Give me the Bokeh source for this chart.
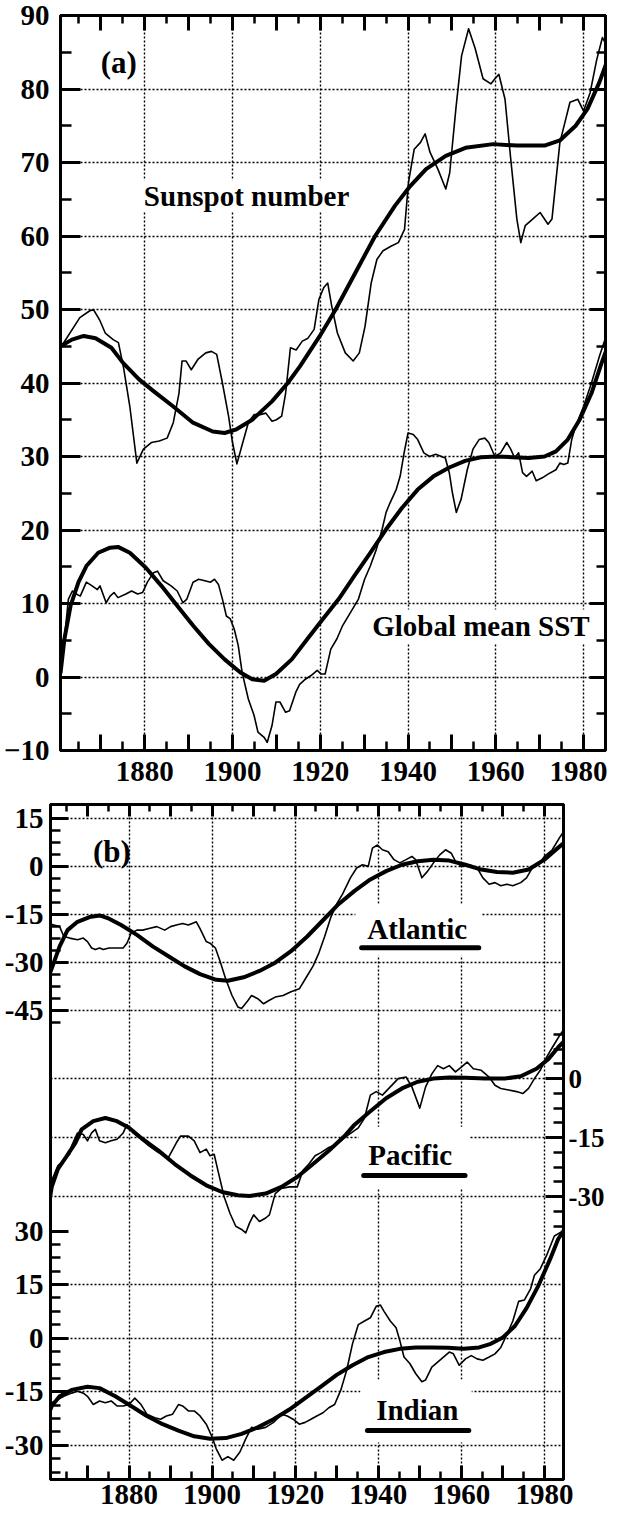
from bokeh.plotting import figure
from bokeh.models import (FixedTicker, LinearAxis, Range1d, Label, BoxAnnotation,
                          CustomJSTickFormatter)
from bokeh.embed import file_html
from bokeh.resources import INLINE

# ---------------- panel (a) data ----------------
sunspot_thin_year = [1860.8, 1865.2, 1867.4, 1868.3, 1869.7, 1871.0, 1872.8, 1874.0, 1875.2, 1876.6,
                     1878.2, 1879.7, 1881.5, 1883.3, 1885.1, 1886.5, 1887.8, 1888.5, 1889.4, 1890.6,
                     1892.1, 1893.9, 1895.2, 1896.4, 1897.7, 1899.1, 1900.0, 1901.0, 1902.2, 1903.6,
                     1904.9, 1906.3, 1907.6, 1909.0, 1910.0, 1911.2, 1912.1, 1913.2, 1914.5, 1915.9,
                     1917.2, 1918.6, 1919.7, 1920.8, 1921.7, 1922.6, 1923.9, 1925.7, 1927.5, 1928.9,
                     1930.2, 1931.6, 1932.9, 1934.3, 1936.1, 1937.8, 1939.2, 1940.1, 1941.4, 1942.8,
                     1943.9, 1945.0, 1946.8, 1948.6, 1949.5, 1950.9, 1952.2, 1953.8, 1955.3, 1957.1,
                     1958.9, 1959.8, 1960.7, 1962.1, 1963.4, 1964.8, 1965.7, 1966.7, 1968.4, 1970.1,
                     1971.9, 1972.8, 1974.6, 1976.9, 1978.7, 1980.0, 1981.5, 1983.0, 1984.3, 1985.2]
sunspot_thin = [44.8, 48.9, 49.8, 50.0, 48.6, 46.8, 45.9, 45.5, 42.0, 36.8,
                29.1, 31.0, 31.9, 32.1, 32.5, 34.6, 38.6, 43.0, 43.0, 41.8,
                43.2, 44.1, 44.3, 43.9, 40.0, 35.5, 31.9, 29.0, 31.6, 34.6,
                35.7, 35.7, 35.9, 34.8, 35.0, 35.5, 38.6, 44.8, 44.5, 45.7,
                46.1, 47.3, 51.4, 53.0, 53.6, 50.5, 46.8, 44.1, 43.0, 44.1,
                47.7, 53.6, 56.8, 58.0, 58.6, 59.1, 60.9, 67.3, 71.8, 72.7,
                73.9, 71.4, 69.1, 66.4, 68.6, 77.3, 84.5, 88.2, 85.5, 81.4,
                80.7, 81.4, 82.0, 78.6, 70.5, 62.3, 59.1, 61.4, 62.3, 63.2,
                61.6, 62.3, 72.7, 78.2, 78.6, 77.0, 79.5, 84.0, 87.0, 86.0]

sunspot_smooth_year = [1860.8, 1863.4, 1866.1, 1868.8, 1872.4, 1875.1, 1878.7, 1882.0, 1886.5, 1891.0,
                       1895.5, 1898.2, 1900.9, 1904.5, 1909.0, 1912.6, 1915.4, 1919.9, 1923.5, 1928.0,
                       1932.5, 1937.0, 1940.5, 1944.1, 1948.6, 1953.1, 1959.4, 1964.8, 1971.1, 1974.6,
                       1978.2, 1980.9, 1983.6, 1985.2]
sunspot_smooth = [45.0, 45.9, 46.4, 46.1, 44.8, 42.7, 40.5, 38.9, 36.8, 34.6,
                  33.4, 33.2, 33.7, 35.0, 37.5, 40.0, 42.3, 46.4, 50.0, 55.0,
                  60.0, 64.1, 66.8, 69.1, 70.9, 72.0, 72.5, 72.3, 72.3, 73.0,
                  75.0, 77.3, 80.9, 83.5]

sst_thin_year = [1860.8, 1861.7, 1862.6, 1863.5, 1864.4, 1865.3, 1866.7, 1868.0, 1869.2, 1869.8,
                 1871.2, 1872.1, 1873.0, 1873.9, 1875.7, 1877.0, 1878.4, 1879.5, 1880.6, 1882.0,
                 1882.9, 1884.2, 1886.0, 1887.4, 1888.7, 1889.6, 1891.0, 1892.3, 1893.7, 1895.0,
                 1895.9, 1896.8, 1897.7, 1898.6, 1899.5, 1900.4, 1901.3, 1902.2, 1903.6, 1904.9,
                 1905.8, 1907.2, 1907.9, 1909.0, 1909.9, 1910.8, 1912.1, 1913.0, 1914.4, 1915.3,
                 1916.6, 1917.9, 1919.3, 1920.2, 1921.1, 1922.4, 1923.8, 1925.1, 1926.9, 1928.7,
                 1930.1, 1931.4, 1932.8, 1934.1, 1935.0, 1935.9, 1937.3, 1938.2, 1939.1, 1940.0,
                 1941.2, 1942.2, 1943.6, 1944.9, 1946.3, 1947.6, 1948.5, 1949.4, 1950.1, 1951.0,
                 1952.1, 1953.5, 1954.8, 1956.2, 1957.5, 1958.4, 1959.8, 1961.1, 1962.5, 1963.4,
                 1964.3, 1965.2, 1966.1, 1967.0, 1968.3, 1969.2, 1970.6, 1971.9, 1973.7, 1974.6,
                 1975.5, 1976.4, 1977.3, 1978.2, 1980.0, 1981.8, 1983.6, 1985.2]
sst_thin = [1.0, 5.2, 10.6, 11.7, 11.3, 11.0, 12.9, 12.4, 11.9, 12.4,
            10.1, 11.0, 11.5, 10.8, 11.3, 11.7, 11.3, 11.5, 12.9, 14.2,
            14.4, 13.1, 12.4, 11.7, 10.1, 10.6, 12.9, 13.3, 13.1, 12.9,
            13.3, 12.6, 10.6, 8.3, 7.9, 6.5, 4.3, 0.6, -3.0, -5.2,
            -7.5, -8.2, -8.9, -6.6, -3.4, -3.4, -4.8, -4.6, -2.1, -1.0,
            -0.3, 0.2, 0.9, 0.4, 0.4, 3.8, 5.2, 7.0, 8.8, 10.6,
            13.3, 15.1, 17.4, 20.1, 22.4, 23.7, 25.5, 27.3, 30.5, 33.2,
            33.0, 32.3, 30.5, 30.0, 30.3, 30.0, 29.8, 27.8, 25.1, 22.4,
            24.2, 28.2, 31.0, 32.3, 32.5, 31.9, 30.0, 30.5, 31.9, 31.0,
            29.8, 30.5, 27.8, 27.3, 28.0, 26.7, 27.1, 27.6, 28.2, 29.1,
            28.9, 29.1, 32.3, 34.1, 36.8, 40.0, 43.6, 46.5]

sst_smooth_year = [1860.8, 1861.7, 1863.1, 1864.9, 1866.7, 1869.4, 1872.1, 1873.9, 1876.6, 1880.2,
                   1883.8, 1887.4, 1891.0, 1894.6, 1898.2, 1901.8, 1904.5, 1907.2, 1909.9, 1913.5,
                   1917.1, 1920.6, 1924.2, 1927.8, 1931.4, 1935.0, 1938.6, 1942.2, 1945.8, 1949.4,
                   1953.0, 1956.6, 1960.2, 1963.8, 1967.5, 1971.1, 1973.7, 1976.4, 1979.1, 1981.8,
                   1984.1, 1985.2]
sst_smooth = [0.5, 5.2, 9.7, 12.9, 15.1, 16.9, 17.6, 17.7, 16.9, 14.9,
              12.4, 9.7, 7.0, 4.5, 2.4, 0.6, -0.3, -0.5, 0.4, 2.4,
              5.2, 7.9, 10.6, 13.8, 16.9, 20.1, 23.0, 25.5, 27.3, 28.5,
              29.4, 29.9, 30.0, 29.9, 29.8, 30.0, 30.7, 32.3, 35.0, 38.6,
              42.7, 44.5]

# ---------------- panel (b) data ----------------
atl_thin_year = [1861.1, 1861.9, 1863.3, 1864.3, 1865.7, 1867.6, 1869.0, 1870.0, 1871.0, 1871.9,
                 1872.9, 1873.8, 1875.2, 1877.1, 1878.6, 1879.5, 1880.5, 1881.9, 1883.3, 1884.8,
                 1886.7, 1888.6, 1890.0, 1891.4, 1892.9, 1894.3, 1895.2, 1896.2, 1897.1, 1898.6,
                 1899.5, 1900.8, 1901.9, 1903.3, 1904.8, 1906.2, 1907.1, 1908.4, 1909.5, 1911.0,
                 1912.4, 1913.8, 1915.2, 1917.1, 1919.0, 1921.0, 1922.9, 1924.3, 1925.7, 1927.1,
                 1928.6, 1930.0, 1931.4, 1933.3, 1934.8, 1936.2, 1937.6, 1938.6, 1939.8, 1941.0,
                 1942.4, 1943.8, 1945.2, 1946.7, 1948.1, 1949.0, 1950.5, 1951.9, 1953.3, 1954.8,
                 1956.2, 1957.6, 1958.6, 1960.0, 1961.9, 1963.8, 1965.2, 1966.7, 1968.1, 1969.5,
                 1971.0, 1972.4, 1974.3, 1975.7, 1977.1, 1978.6, 1980.0, 1981.9, 1983.8, 1985.2]
atl_thin = [-18.0, -18.3, -18.8, -21.9, -22.4, -22.9, -22.4, -23.5, -25.5, -26.0,
            -25.5, -26.0, -25.5, -25.5, -25.5, -24.0, -20.9, -19.9, -19.9, -19.4,
            -18.8, -19.9, -18.8, -18.3, -17.8, -18.3, -17.8, -17.3, -19.4, -23.5,
            -24.0, -25.5, -29.6, -35.3, -40.4, -44.0, -44.5, -42.4, -40.4, -41.4,
            -43.0, -41.9, -40.9, -40.4, -39.2, -38.3, -34.2, -31.2, -27.1, -21.9,
            -15.8, -11.7, -8.6, -3.5, -0.4, 0.6, 0.1, 5.8, 6.8, 5.3,
            4.7, 2.2, 1.2, 2.2, 3.2, 2.2, -3.5, -1.4, 1.2, 3.7,
            5.3, 4.2, 1.7, 0.1, 0.6, -0.4, -3.5, -5.5, -5.0, -6.0,
            -5.5, -6.0, -5.0, -3.5, -0.4, 0.6, 3.2, 5.3, 9.4, 12.0]

atl_smooth_year = [1861.1, 1861.9, 1863.3, 1865.2, 1867.6, 1870.5, 1872.9, 1875.2, 1878.1, 1881.9,
                   1885.7, 1889.5, 1893.3, 1897.1, 1901.0, 1903.8, 1907.6, 1911.4, 1915.2, 1919.0,
                   1922.9, 1926.7, 1930.5, 1934.3, 1938.1, 1941.9, 1945.7, 1949.5, 1953.3, 1957.1,
                   1961.0, 1964.8, 1968.6, 1972.4, 1976.2, 1980.0, 1982.9, 1985.2]
atl_smooth = [-33.0, -30.1, -25.0, -19.9, -17.3, -15.8, -15.3, -16.3, -18.3, -21.4,
              -25.0, -28.1, -31.2, -33.7, -35.5, -35.8, -34.7, -32.7, -30.1, -26.5,
              -21.9, -16.8, -11.7, -7.6, -4.0, -1.4, 0.6, 1.7, 2.2, 1.9,
              0.6, -0.9, -1.7, -1.9, -0.9, 2.2, 5.5, 8.0]

pac_thin_year = [1860.5, 1861.4, 1862.9, 1864.3, 1865.7, 1866.2, 1867.6, 1869.0, 1870.0, 1871.0,
                 1871.9, 1872.9, 1874.3, 1875.7, 1877.1, 1878.6, 1879.5, 1881.0, 1882.9, 1884.8,
                 1887.1, 1889.5, 1891.4, 1892.4, 1894.3, 1895.7, 1897.1, 1898.6, 1899.5, 1900.5,
                 1901.4, 1902.9, 1904.3, 1905.7, 1907.1, 1908.1, 1909.0, 1910.0, 1911.4, 1912.9,
                 1913.8, 1915.2, 1916.7, 1918.6, 1920.5, 1921.9, 1923.3, 1924.8, 1926.2, 1928.1,
                 1930.0, 1931.0, 1932.4, 1935.2, 1936.7, 1938.1, 1939.5, 1941.0, 1942.9, 1944.8,
                 1946.7, 1948.1, 1950.0, 1951.4, 1952.9, 1954.3, 1955.7, 1957.1, 1958.6, 1960.0,
                 1961.4, 1962.9, 1964.8, 1966.7, 1968.1, 1969.5, 1971.4, 1973.3, 1974.8, 1976.2,
                 1977.6, 1979.0, 1980.5, 1981.9, 1983.8, 1985.0]
pac_thin = [-29.2, -25.8, -22.1, -20.8, -19.2, -17.1, -13.8, -14.2, -15.8, -13.8,
            -12.9, -15.8, -16.3, -15.8, -15.4, -13.8, -11.7, -13.8, -15.4, -17.1,
            -18.8, -20.0, -16.3, -14.6, -14.6, -15.8, -18.8, -17.9, -19.6, -19.2,
            -23.3, -30.0, -34.2, -37.5, -38.3, -39.2, -36.7, -34.6, -36.3, -35.4,
            -34.6, -29.2, -27.9, -27.5, -27.5, -23.3, -21.7, -19.6, -18.8, -17.5,
            -16.7, -15.8, -14.6, -12.5, -10.0, -4.2, -3.3, -4.2, -2.1, 0.0,
            0.4, -2.1, -7.5, -2.1, 1.2, 3.3, 2.5, 3.3, 1.7, 2.9,
            4.2, 2.5, 2.1, 0.4, -1.7, -2.5, -2.9, -3.3, -3.8, -2.5,
            0.0, 2.1, 5.4, 7.9, 11.2, 12.9]

pac_smooth_year = [1860.5, 1861.4, 1862.9, 1864.8, 1867.1, 1868.6, 1871.4, 1874.3, 1877.1, 1880.0,
                   1883.3, 1887.1, 1891.0, 1894.8, 1898.6, 1902.4, 1906.2, 1909.0, 1912.9, 1916.7,
                   1920.5, 1924.3, 1928.1, 1931.9, 1934.3, 1938.1, 1941.9, 1945.7, 1949.5, 1953.3,
                   1957.1, 1961.0, 1965.7, 1970.5, 1974.3, 1978.1, 1981.0, 1983.3, 1985.2]
pac_smooth = [-33.3, -27.5, -22.9, -20.0, -16.3, -12.9, -10.8, -10.0, -10.8, -12.5,
              -15.4, -18.3, -21.7, -24.6, -27.1, -28.8, -29.6, -29.8, -29.2, -27.5,
              -25.0, -21.7, -18.3, -14.6, -11.7, -8.3, -5.0, -2.5, -0.8, 0.0,
              0.3, 0.2, 0.0, 0.0, 0.6, 2.5, 5.0, 7.9, 10.0]

ind_thin_year = [1860.5, 1861.4, 1862.9, 1864.3, 1866.2, 1867.6, 1869.0, 1870.0, 1871.4, 1872.9,
                 1874.3, 1875.7, 1877.1, 1878.6, 1880.0, 1881.4, 1882.9, 1884.3, 1886.2, 1887.6,
                 1889.0, 1890.5, 1891.9, 1892.9, 1894.3, 1895.7, 1897.1, 1898.6, 1900.0, 1901.0,
                 1902.4, 1903.8, 1905.2, 1906.7, 1908.1, 1909.5, 1911.0, 1912.9, 1914.8, 1916.7,
                 1918.1, 1919.5, 1921.0, 1922.4, 1923.8, 1925.2, 1926.7, 1928.1, 1929.5, 1931.0,
                 1932.4, 1933.8, 1935.2, 1936.7, 1938.1, 1939.5, 1940.5, 1941.4, 1942.9, 1944.3,
                 1945.2, 1946.2, 1947.6, 1949.0, 1950.5, 1951.4, 1952.9, 1954.3, 1955.7, 1957.1,
                 1958.1, 1959.5, 1961.0, 1962.4, 1963.8, 1965.2, 1966.7, 1968.1, 1969.5, 1971.0,
                 1972.4, 1973.8, 1975.2, 1976.7, 1977.6, 1979.0, 1980.5, 1982.4, 1984.3, 1985.0]
ind_thin = [-21.3, -18.1, -17.2, -16.3, -15.4, -14.9, -15.4, -16.3, -18.6, -17.6,
            -18.1, -17.6, -19.0, -19.0, -18.6, -16.8, -18.6, -21.3, -22.3, -22.7,
            -21.8, -21.3, -18.6, -19.0, -20.4, -20.4, -21.8, -24.1, -27.7, -31.0,
            -34.2, -33.2, -34.2, -31.9, -28.2, -25.0, -25.5, -25.0, -23.6, -21.3,
            -21.8, -22.7, -24.1, -23.6, -22.7, -21.8, -20.9, -19.5, -18.6, -14.5,
            -9.0, -1.6, 3.8, 4.8, 5.7, 8.9, 9.3, 7.5, 4.8, 2.9,
            -0.7, -5.3, -7.1, -9.9, -12.2, -11.7, -8.1, -6.7, -5.3, -3.9,
            -4.4, -7.6, -5.8, -4.9, -5.8, -6.2, -5.3, -4.4, -2.6, 1.1,
            4.8, 10.3, 10.7, 13.9, 17.6, 19.4, 23.1, 28.6, 29.9, 29.5]

ind_smooth_year = [1860.5, 1861.4, 1863.3, 1866.2, 1870.0, 1872.9, 1876.7, 1880.5, 1884.3, 1888.1,
                   1891.9, 1895.7, 1899.5, 1903.3, 1907.1, 1911.0, 1914.8, 1918.6, 1922.4, 1926.2,
                   1930.0, 1933.8, 1937.6, 1941.4, 1945.2, 1949.0, 1952.9, 1956.7, 1960.5, 1964.3,
                   1967.1, 1970.0, 1972.9, 1975.7, 1978.6, 1981.4, 1983.3, 1984.8]
ind_smooth = [-21.8, -19.0, -16.3, -14.5, -13.6, -14.0, -16.3, -19.0, -21.8, -24.1,
              -25.9, -27.5, -28.2, -28.0, -26.8, -25.0, -22.7, -20.0, -16.8, -13.6,
              -10.3, -7.6, -5.3, -3.9, -3.0, -2.6, -2.6, -2.7, -3.0, -2.6,
              -1.6, 0.2, 3.4, 8.4, 14.8, 22.2, 27.7, 30.4]

# ---------------- ticks ----------------
year_major = [1870, 1880, 1890, 1900, 1910, 1920, 1930, 1940, 1950, 1960, 1970, 1980]
year_minor = [1865, 1875, 1885, 1895, 1905, 1915, 1925, 1935, 1945, 1955, 1965, 1975, 1985]
year_labeled = [1880, 1900, 1920, 1940, 1960, 1980]
a_y_major = [-10, 0, 10, 20, 30, 40, 50, 60, 70, 80, 90]
a_y_minor = [-5, 5, 15, 25, 35, 45, 55, 65, 75, 85]
a_y_grid = [0, 10, 20, 30, 40, 50, 60, 70, 80]
atl_ticks = [15, 0, -15, -30, -45]
atl_minor = [11.25, 7.5, 3.75, -3.75, -7.5, -11.25, -18.75, -22.5, -26.25,
             -33.75, -37.5, -41.25, -48.75]
pac_ticks = [0, -15, -30]
pac_minor = [11.25, 7.5, 3.75, -3.75, -7.5, -11.25, -18.75, -22.5, -26.25, -33.75, -37.5]
ind_ticks = [30, 15, 0, -15, -30]
ind_minor = [26.25, 22.5, 18.75, 11.25, 7.5, 3.75, -3.75, -7.5, -11.25,
             -18.75, -22.5, -26.25, -33.75, -37.5]

FONT = "Liberation Serif"
DOT = "2 2"


def style_axis(ax, tick_in, minor_in, labels=True, standoff=8, size="29px"):
    ax.axis_line_color = "black"
    ax.axis_line_width = 3
    ax.major_tick_line_color = "black"
    ax.major_tick_line_width = 3
    ax.minor_tick_line_color = "black"
    ax.minor_tick_line_width = 2.5
    ax.major_tick_in = tick_in
    ax.major_tick_out = 0
    ax.minor_tick_in = minor_in
    ax.minor_tick_out = 0
    if labels:
        ax.major_label_text_font = FONT
        ax.major_label_text_font_style = "bold"
        ax.major_label_text_font_size = size
        ax.major_label_text_color = "black"
        ax.major_label_standoff = standoff
    else:
        ax.formatter = CustomJSTickFormatter(code="return ''")
        ax.major_label_text_font_size = "0px"
        ax.major_label_standoff = 0


def year_overrides():
    return {y: ("" if y not in year_labeled else str(y)) for y in year_major}


def style_fig(p):
    p.outline_line_color = "black"
    p.outline_line_width = 3
    p.background_fill_color = "white"
    p.border_fill_color = "white"
    for g in (p.xgrid[0], p.ygrid[0]):
        g.grid_line_color = "black"
        g.grid_line_dash = DOT
        g.grid_line_width = 1.4
        g.level = "image"


# ================= panel (a) =================
pa = figure(width=607, height=795, x_range=Range1d(1860.8, 1985.0), y_range=Range1d(-10, 90),
            output_backend="svg", toolbar_location=None,
            min_border_left=60, min_border_right=2, min_border_top=15, min_border_bottom=45)
style_fig(pa)
pa.xgrid[0].ticker = FixedTicker(ticks=year_labeled)
pa.ygrid[0].ticker = FixedTicker(ticks=a_y_grid)

ax = pa.below[0]
ax.ticker = FixedTicker(ticks=year_major, minor_ticks=year_minor)
ax.major_label_overrides = year_overrides()
style_axis(ax, 16, 9, standoff=11)

ax = pa.left[0]
ax.ticker = FixedTicker(ticks=a_y_major, minor_ticks=a_y_minor)
style_axis(ax, 20, 11, standoff=11)

top_a = LinearAxis(ticker=FixedTicker(ticks=year_major, minor_ticks=year_minor))
style_axis(top_a, 15, 8, labels=False)
pa.add_layout(top_a, "above")
right_a = LinearAxis(ticker=FixedTicker(ticks=a_y_major, minor_ticks=a_y_minor))
style_axis(right_a, 16, 9, labels=False)
pa.add_layout(right_a, "right")

for l, r, b, t in [(1879.3, 1928.5, 63.3, 67.6), (1929.4, 1982.3, 4.6, 9.2)]:
    pa.add_layout(BoxAnnotation(left=l, right=r, bottom=b, top=t, fill_color="white",
                                fill_alpha=1, line_alpha=0, level="underlay"))

pa.line(sunspot_thin_year, sunspot_thin, line_color="black", line_width=1.6, line_join="round")
pa.line(sunspot_smooth_year, sunspot_smooth, line_color="black", line_width=4, line_join="round")
pa.line(sst_thin_year, sst_thin, line_color="black", line_width=1.6, line_join="round")
pa.line(sst_smooth_year, sst_smooth, line_color="black", line_width=4, line_join="round")

for txt, x, y, align, size in [("(a)", 1874.1, 83.6, "center", "31px"),
                               ("Sunspot number", 1879.8, 65.4, "left", "29px"),
                               ("Global mean SST", 1981.4, 6.9, "right", "29px")]:
    pa.add_layout(Label(x=x, y=y, text=txt, text_align=align, text_baseline="alphabetic",
                        text_font=FONT, text_font_style="bold", text_font_size=size,
                        text_color="black"))

# ================= panel (b) =================
A_BOT, A_TOP = -192.2, 19.5
P_BOT, P_TOP = -101.8, 69.6
I_BOT, I_TOP = -39.6, 149.5


def p2a(v):
    return round(A_BOT + (v - P_BOT) * (A_TOP - A_BOT) / (P_TOP - P_BOT), 4)


def i2a(v):
    return round(A_BOT + (v - I_BOT) * (A_TOP - A_BOT) / (I_TOP - I_BOT), 4)


pb = figure(width=607, height=721, x_range=Range1d(1861.1, 1984.6), y_range=Range1d(A_BOT, A_TOP),
            output_backend="svg", toolbar_location=None,
            min_border_left=50, min_border_right=41, min_border_top=9, min_border_bottom=37)
pb.extra_y_ranges = {"pacific": Range1d(P_BOT, P_TOP), "indian": Range1d(I_BOT, I_TOP)}
style_fig(pb)
pb.xgrid[0].ticker = FixedTicker(ticks=year_labeled)
pb.ygrid[0].ticker = FixedTicker(ticks=atl_ticks + [p2a(v) for v in pac_ticks] +
                                 [i2a(v) for v in ind_ticks if v != 30])

ax = pb.below[0]
ax.ticker = FixedTicker(ticks=year_major, minor_ticks=year_minor)
ax.major_label_overrides = year_overrides()
style_axis(ax, 14, 8, standoff=5)

left_major = atl_ticks + [i2a(v) for v in ind_ticks]
left_minor = atl_minor + [i2a(v) for v in ind_minor]
left_labels = {v: str(v) for v in atl_ticks}
left_labels.update({i2a(v): str(v) for v in ind_ticks})
ax = pb.left[0]
ax.ticker = FixedTicker(ticks=left_major, minor_ticks=left_minor)
ax.major_label_overrides = left_labels
style_axis(ax, 18, 10, standoff=7)

right_b = LinearAxis(y_range_name="pacific", ticker=FixedTicker(ticks=pac_ticks, minor_ticks=pac_minor))
right_b.major_label_overrides = {v: str(v) for v in pac_ticks}
style_axis(right_b, 18, 10, standoff=5, size="27px")
pb.add_layout(right_b, "right")

top_b = LinearAxis(ticker=FixedTicker(ticks=year_major, minor_ticks=year_minor))
style_axis(top_b, 12, 7, labels=False)
pb.add_layout(top_b, "above")

boxes_b = [(1934.5, 1964.9, -27.9, -11.6, "default"),
           (1935.3, 1962.1, -27.9, -12.2, "pacific"),
           (1935.7, 1962.5, -29.2, -11.6, "indian")]
for l, r, b, t, rn in boxes_b:
    pb.add_layout(BoxAnnotation(left=l, right=r, bottom=b, top=t, fill_color="white",
                                fill_alpha=1, line_alpha=0, level="underlay", y_range_name=rn))

pb.line(atl_thin_year, atl_thin, line_color="black", line_width=1.6, line_join="round")
pb.line(atl_smooth_year, atl_smooth, line_color="black", line_width=4, line_join="round")
pb.line(pac_thin_year, pac_thin, line_color="black", line_width=1.6, line_join="round",
        y_range_name="pacific")
pb.line(pac_smooth_year, pac_smooth, line_color="black", line_width=4, line_join="round",
        y_range_name="pacific")
pb.line(ind_thin_year, ind_thin, line_color="black", line_width=1.6, line_join="round",
        y_range_name="indian")
pb.line(ind_smooth_year, ind_smooth, line_color="black", line_width=4, line_join="round",
        y_range_name="indian")

labels_b = [("(b)", 1875.9, 4.9, "default", "31px"),
            ("Atlantic", 1949.4, -19.4, "default", "29px"),
            ("Pacific", 1947.7, -19.3, "pacific", "29px"),
            ("Indian", 1949.4, -20.0, "indian", "29px")]
for txt, x, y, rn, size in labels_b:
    pb.add_layout(Label(x=x, y=y, text=txt, text_align="center", text_baseline="alphabetic",
                        text_font=FONT, text_font_style="bold", text_font_size=size,
                        text_color="black", y_range_name=rn))

underlines = [(1936.0, 1964.2, -25.4, "default"),
              (1936.5, 1960.9, -24.6, "pacific"),
              (1937.4, 1961.8, -25.9, "indian")]
for x0, x1, y, rn in underlines:
    pb.segment(x0=[x0], y0=[y], x1=[x1], y1=[y], line_color="black", line_width=5,
               line_cap="round", y_range_name=rn)

open("out.html", "w").write(file_html([pa, pb], INLINE))
